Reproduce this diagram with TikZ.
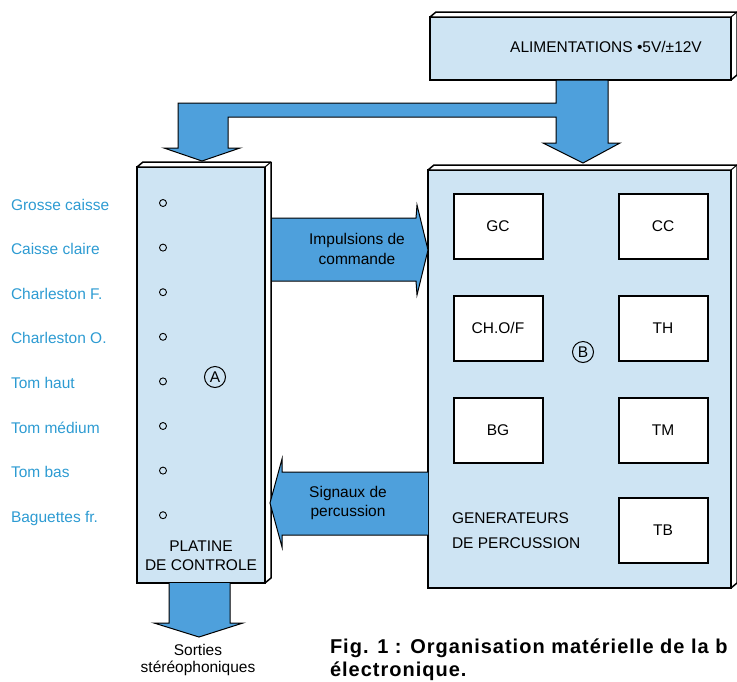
\documentclass[tikz,border=0pt]{standalone}
\usepackage{fontspec}
\setmainfont{Liberation Sans}
\usetikzlibrary{arrows.meta,positioning,calc}

\definecolor{boxblue}{RGB}{206,228,243}
\definecolor{flowblue}{RGB}{78,160,220}
\definecolor{labelblue}{RGB}{45,155,210}

\begin{document}
\begin{tikzpicture}[x=1pt, y=-1pt,
    every node/.style={inner sep=0pt, outer sep=0pt, font=\fontsize{15.5}{20}\selectfont},
    slab/.style={rectangle, draw, line width=1.5pt, fill=boxblue},
    unit/.style={rectangle, draw, line width=2pt, fill=white, minimum width=89pt, minimum height=65pt},
    flow/.style={draw, line width=1pt, fill=flowblue},
    lbl/.style={anchor=base west, text=labelblue},
    pin/.style={circle, draw, line width=0.9pt, minimum size=7pt},
    ringmark/.style={circle, draw, line width=1pt, minimum size=21pt},
    caption/.style={anchor=base west, font=\bfseries\fontsize{20}{21}\selectfont\addfontfeatures{LetterSpace=5}}]
  \useasboundingbox (0,0) rectangle (737,681);

  % blocks with their top and side faces
  \node[slab, minimum width=301pt, minimum height=63pt] (alim) at (580.5,48.5) {};
  \node[slab, minimum width=128pt, minimum height=416pt] (platine) at (201,375) {};
  \node[slab, minimum width=303pt, minimum height=418pt] (gen) at (579.5,379) {};
  \foreach \b in {alim,platine,gen}{
    \draw[line width=1.5pt, fill=white, line join=round] (\b.north west) -- ++(6,-5) -- ($(\b.north east)+(6,-5)$)
      -- ($(\b.south east)+(6,-5)$) -- (\b.south east) -- (\b.north east) -- cycle;
    \draw[line width=1pt] (\b.north east) -- ++(6,-5);
  }
  \node (alimtxt) at (606,47) {ALIMENTATIONS •5V/±12V};

  % power bus
  \draw[flow] (608,80) -- (608,143) -- (620,143) -- (583,163) -- (543,143) -- (556,143) -- (556,117)
    -- (228,117) -- (228,148) -- (240,148) -- (202,161) -- (164,148) -- (178,148) -- (178,103)
    -- (556,103) -- (556,80) -- cycle;

  % control plate A
  \foreach \t [count=\i, evaluate=\i as \y using 203+44.6*(\i-1)] in
      {Grosse caisse,Caisse claire,Charleston F.,Charleston O.,Tom haut,Tom médium,Tom bas,Baguettes fr.}{
    \node[lbl] (lbl\i) at (11,\y+7) {\t};
    \node[pin] (pin\i) at (163,\y) {};
  }
  \node[ringmark] (markA) at (215,377) {A};
  \node[align=center] (platinetxt) at (201,556) {PLATINE\\[-1pt]DE CONTROLE};

  % generators B
  \node[unit] (gc) at (498,226) {GC};
  \node[unit] (cc) at (663,226) {CC};
  \node[unit] (chof) at (498,328) {CH.O/F};
  \node[unit] (th) at (663,328) {TH};
  \node[unit] (bg) at (498,430) {BG};
  \node[unit] (tm) at (663,430) {TM};
  \node[unit] (tb) at (663,530) {TB};
  \node[ringmark] (markB) at (583,352) {B};
  \node[align=left, anchor=west] (gentxt) at (452,531) {GENERATEURS\\[5pt]DE PERCUSSION};

  % flows between A and B
  \draw[flow] (272,218) -- (416,218) -- (417,205) -- (428,250) -- (417,295) -- (416,281) -- (272,281);
  \node[align=center] (imptxt) at (357,249) {Impulsions de\\commande};
  \draw[flow] (428,472) -- (282,472) -- (282,459) -- (270,503) -- (282,547) -- (282,535) -- (428,535);
  \node[align=center] (sigtxt) at (348,503) {Signaux de\\[-1pt]percussion};

  % outputs
  \draw[flow] (169,583) -- (169,623) -- (154,623) -- (199,637) -- (243,623) -- (230,623) -- (230,583);
  \node[align=center] (outtxt) at (198,660) {Sorties\\[-3pt]stéréophoniques};

  \node[caption] (caption1) at (330,653) {Fig. 1 : Organisation matérielle de la b};
  \node[caption] (caption2) at (330,676.5) {électronique.};
\end{tikzpicture}
\end{document}
